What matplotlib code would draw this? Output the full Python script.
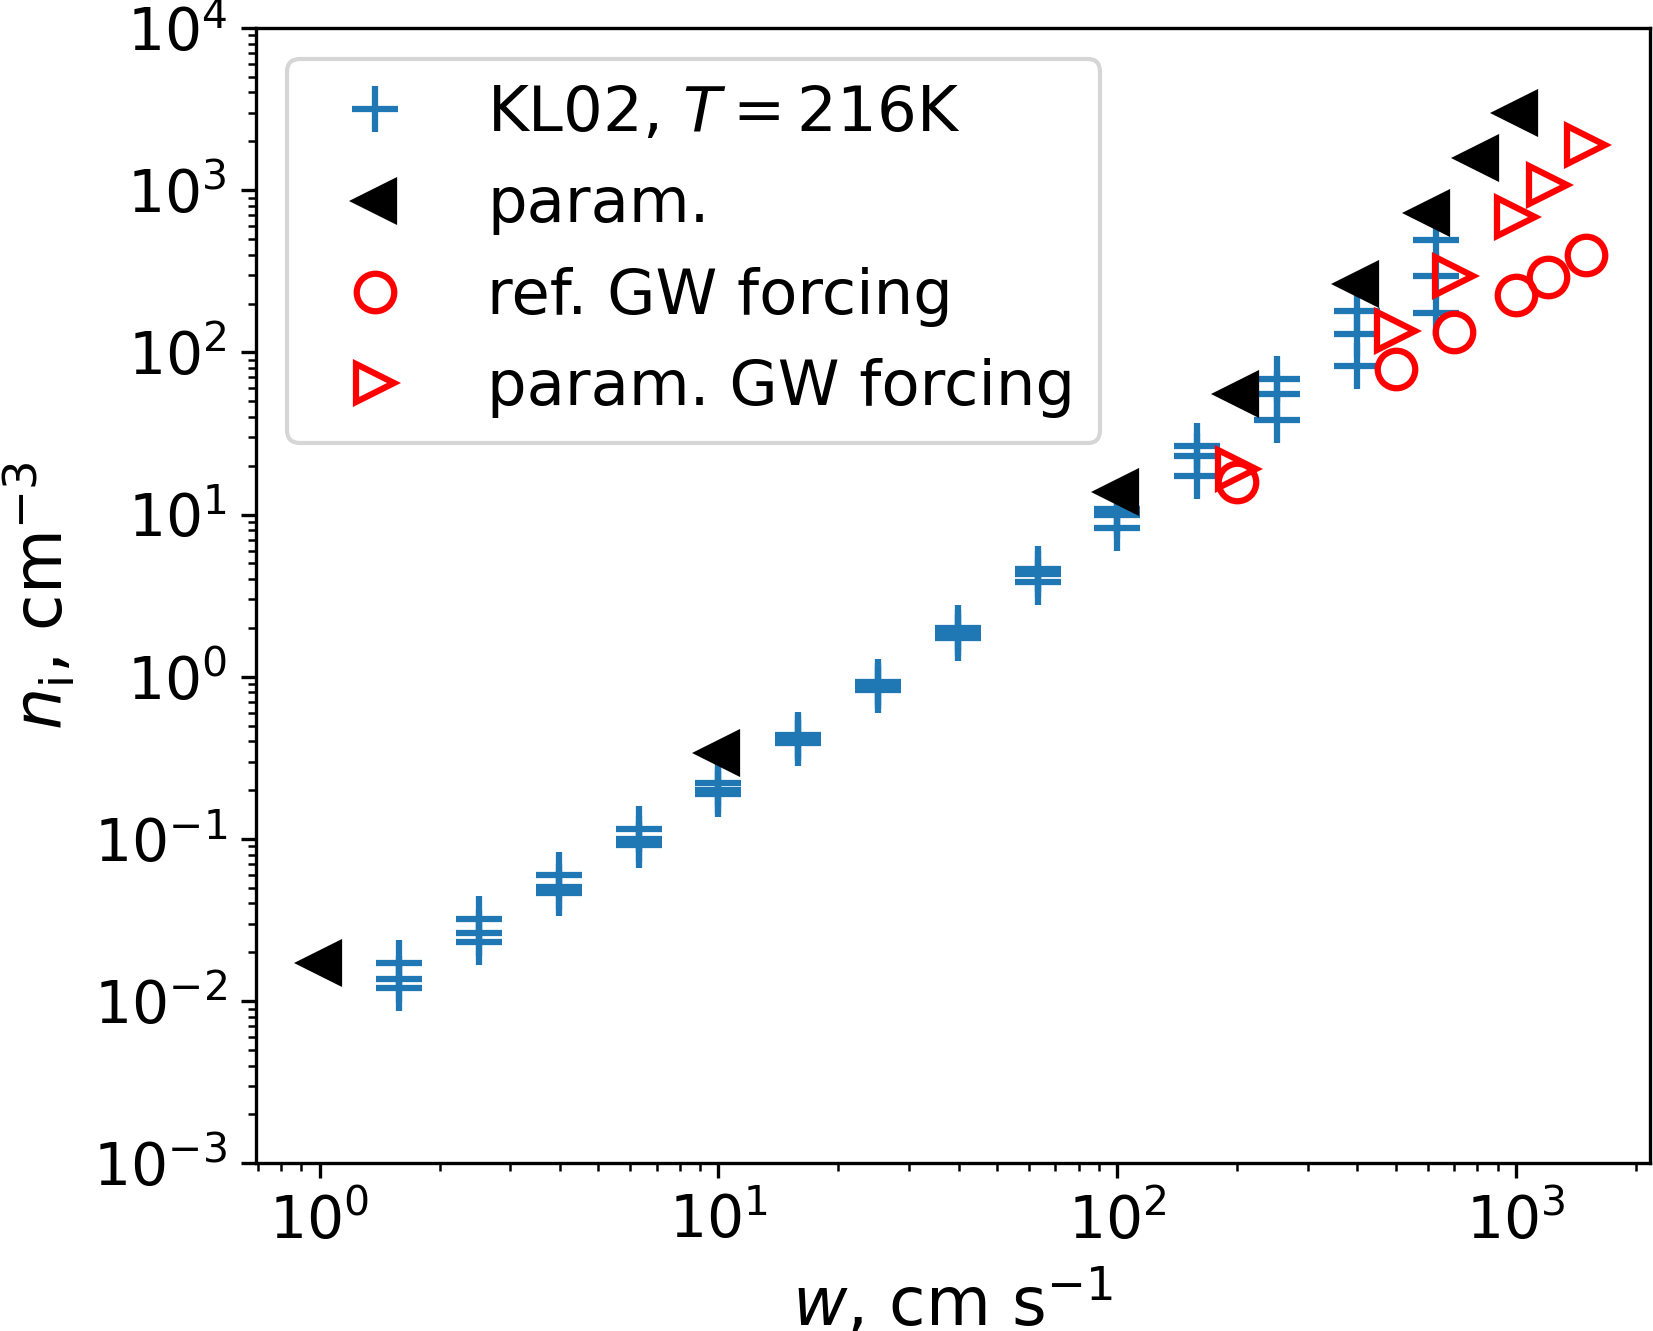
import matplotlib
matplotlib.use("Agg")
import matplotlib.pyplot as plt

# KL02 reference values, three runs per updraft speed
kl02_w = [1.585, 2.512, 3.981, 6.31, 10, 15.85, 25.12, 39.81, 63.1, 100, 158.5, 251.2, 398.1, 631]
kl02_n_hi = [0.0172, 0.0321, 0.060, 0.1153, 0.222, 0.44, 0.931, 2.0, 4.59, 10.8, 26.4, 68.1, 180, 491]
kl02_n_mid = [0.01368, 0.0263, 0.0503, 0.100, 0.200, 0.416, 0.880, 1.87, 4.28, 9.9, 23.1, 55.6, 129, 294]
kl02_n_lo = [0.01208, 0.0232, 0.0464, 0.0922, 0.190, 0.393, 0.831, 1.74, 3.82, 8.23, 17.4, 38.0, 82.3, 175]

# parameterisation
param_w = [1, 10, 100, 200, 400, 600, 800, 1000]
param_n = [0.0172, 0.341, 13.7, 55.6, 265, 728, 1570, 2973]

# gravity wave forcing runs
gw_w = [200, 500, 700, 1000, 1200, 1500]
ref_gw_n = [15.8, 79.3, 133, 225, 292, 397]
param_gw_n = [19.1, 135, 294, 684, 1074, 1896]

fig, ax = plt.subplots(figsize=(1653/300, 1331/300), dpi=300)
fig.subplots_adjust(left=0.155, right=0.998, bottom=0.126, top=0.979)

for i, n in enumerate([kl02_n_hi, kl02_n_mid, kl02_n_lo]):
    ax.plot(kl02_w, n, "+", color="tab:blue", ms=11, mew=1.5,
            label=r"KL02, $T = 216$K" if i == 0 else None)
ax.plot(param_w, param_n, "<", color="black", ms=9, mew=1.5, label="param.")
ax.plot(gw_w, ref_gw_n, "o", mfc="none", mec="red", ms=9, mew=1.5, label="ref. GW forcing")
ax.plot(gw_w, param_gw_n, ">", mfc="none", mec="red", ms=9, mew=1.5, label="param. GW forcing")

ax.set_xscale("log")
ax.set_yscale("log")
ax.set_ylim(1e-3, 1e4)
ax.tick_params(labelsize=14)
ax.set_xlabel(r"$w$, cm s$^{-1}$", fontsize=16)
ax.set_ylabel(r"$n_\mathrm{i}$, cm$^{-3}$", fontsize=16)
ax.legend(loc="upper left", fontsize=15)

fig.savefig("out.png", dpi=300)
